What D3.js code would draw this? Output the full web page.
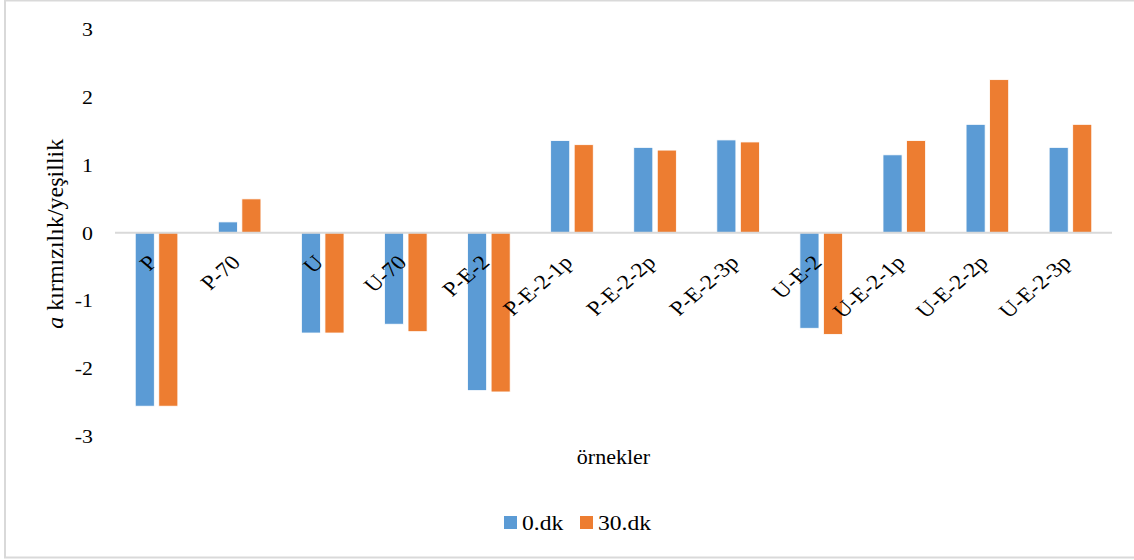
<!DOCTYPE html>
<html>
<head>
<meta charset="utf-8">
<script src="https://d3js.org/d3.v7.min.js"></script>
<style>
  html, body { margin: 0; padding: 0; background: #fff; }
  svg { display: block; }
  svg text { font-family: "Liberation Serif", "DejaVu Serif", serif !important; fill: #000; }
</style>
</head>
<body>
<svg id="chart" width="1134" height="560"></svg>
<script>
const categories = ["P", "P-70", "U", "U-70", "P-E-2", "P-E-2-1p", "P-E-2-2p", "P-E-2-3p", "U-E-2", "U-E-2-1p", "U-E-2-2p", "U-E-2-3p"];
const seriesNames = ["0.dk", "30.dk"];
const values0 = [-2.56, 0.16, -1.48, -1.35, -2.33, 1.36, 1.26, 1.37, -1.41, 1.15, 1.60, 1.26];
const values30 = [-2.56, 0.50, -1.48, -1.46, -2.35, 1.30, 1.22, 1.34, -1.50, 1.36, 2.26, 1.60];
const yTicks = [-3, -2, -1, 0, 1, 2, 3];
const colors = ["#5B9BD5", "#ED7D31"];
const SX = 1.15; // horizontal stretch of text glyphs

const svg = d3.select("#chart");
const W = 1134, H = 560;

// chart border
svg.append("rect").attr("x", 5).attr("y", 0.5).attr("width", W + 10).attr("height", 557)
  .attr("fill", "none").attr("stroke", "#D9D9D9").attr("stroke-width", 2);

const plot = { left: 115, right: 1112, top: 29.5, bottom: 436 };

const x = d3.scaleBand().domain(categories).range([plot.left, plot.right]).paddingInner(0).paddingOuter(0);
const y = d3.scaleLinear().domain([-3, 3]).range([plot.bottom, plot.top]);

const inner = d3.scaleBand().domain(seriesNames).range([0, x.bandwidth()]).paddingInner(0.19).paddingOuter(0.86);

const data = categories.map((c, i) => ({ cat: c, vals: [values0[i], values30[i]] }));

// bars
const g = svg.append("g");
data.forEach(d => {
  d.vals.forEach((v, k) => {
    g.append("rect")
      .attr("x", x(d.cat) + inner(seriesNames[k]))
      .attr("width", inner.bandwidth())
      .attr("y", Math.min(y(v), y(0)))
      .attr("height", Math.abs(y(v) - y(0)))
      .attr("fill", colors[k])
      .attr("stroke", "#fff")
      .attr("stroke-width", 0.8);
  });
});

// zero line
svg.append("line").attr("x1", plot.left).attr("x2", plot.right)
  .attr("y1", y(0)).attr("y2", y(0)).attr("stroke", "#D9D9D9").attr("stroke-width", 2);

// y axis labels
const yAxis = d3.axisLeft(y).tickValues(yTicks).tickSize(0).tickPadding(0).tickFormat(d => String(d));
const ya = svg.append("g").attr("transform", "translate(93,0)").call(yAxis);
ya.attr("font-family", null).attr("font-size", null);
ya.select(".domain").remove();
ya.selectAll("text").attr("font-size", 19).attr("fill", "#000").attr("dy", "0.33em")
  .attr("transform", `scale(${SX},1)`);

// x category labels, rotated
const xAxis = d3.axisBottom(x).tickSize(0).tickPadding(0);
const xa = svg.append("g").attr("transform", `translate(0,${y(0)})`).call(xAxis);
xa.attr("font-family", null).attr("font-size", null);
xa.select(".domain").remove();
xa.selectAll(".tick text")
  .attr("font-size", 20.5).attr("fill", "#000")
  .attr("text-anchor", "end").attr("dy", 0).attr("y", 0)
  .attr("transform", `translate(2,31) scale(${SX},1) rotate(-45)`);

// y title
const yt = svg.append("text").attr("transform", `translate(63,${(plot.top + plot.bottom) / 2 + 1}) rotate(-90)`)
  .attr("text-anchor", "middle").attr("font-size", 24);
yt.append("tspan").attr("font-style", "italic").text("a");
yt.append("tspan").text(" kırmızılık/yeşillik");

// x title
svg.append("text").attr("x", (plot.left + plot.right) / 2).attr("y", 464)
  .attr("text-anchor", "middle").attr("font-size", 22).text("örnekler");

// legend
const legendItems = [{ name: seriesNames[0], x: 504, color: colors[0] }, { name: seriesNames[1], x: 580, color: colors[1] }];
const lg = svg.append("g");
legendItems.forEach(it => {
  lg.append("rect").attr("x", it.x).attr("y", 516).attr("width", 13).attr("height", 13).attr("fill", it.color);
  lg.append("text").attr("transform", `translate(${it.x + 18},530) scale(${SX},1)`)
    .attr("font-size", 20.5).text(it.name);
});
</script>
</body>
</html>
